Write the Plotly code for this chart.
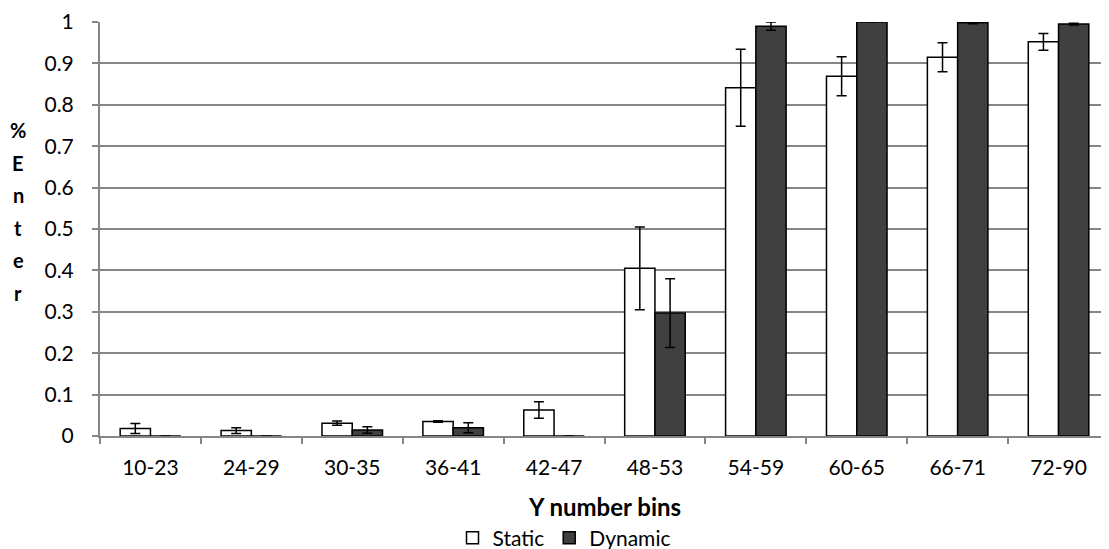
import plotly.graph_objects as go

categories = ["10-23", "24-29", "30-35", "36-41", "42-47", "48-53", "54-59", "60-65", "66-71", "72-90"]
static_vals = [0.018, 0.013, 0.031, 0.035, 0.063, 0.405, 0.841, 0.869, 0.915, 0.952]
static_err = [0.012, 0.007, 0.005, 0.002, 0.020, 0.100, 0.093, 0.047, 0.035, 0.020]
dynamic_vals = [0.0, 0.0, 0.0145, 0.020, 0.0, 0.297, 0.990, 1.0, 0.998, 0.995]
dynamic_err = [0.0, 0.0, 0.008, 0.012, 0.0, 0.083, 0.010, 0.0, 0.002, 0.002]
y_title_letters = ["%", "E", "n", "t", "e", "r"]

FONT = "Lato, Carlito, 'Liberation Sans', sans-serif"
AXIS_COL = "#868686"

fig = go.Figure()
fig.add_trace(go.Bar(
    name="Static", x=categories, y=static_vals,
    marker=dict(color="white", line=dict(color="black", width=1.5)),
    error_y=dict(type="data", array=static_err, color="black", thickness=1.5, width=5),
))
fig.add_trace(go.Bar(
    name="Dynamic", x=categories, y=dynamic_vals,
    marker=dict(color="#404040", line=dict(color="black", width=1.5)),
    error_y=dict(type="data", array=dynamic_err, color="black", thickness=1.5, width=5),
))

# page body has an 8px margin: screenshot pixel = figure pixel + 8
OFF = 8
W, H = 1109 - OFF, 549 - OFF
L, R, T, B = 100 - OFF, 0, 22 - OFF, H - (436 - OFF)
pw, ph = W - L - R, H - T - B


def px(xs):
    return (xs - OFF - L) / pw


def py(ys):
    return (H - B - (ys - OFF)) / ph


annotations = []
for i, ch in enumerate(y_title_letters):
    annotations.append(dict(
        text="<b>%s</b>" % ch, xref="paper", yref="paper",
        x=px(18), y=py(130 + i * 32.6), showarrow=False,
        xanchor="center", yanchor="middle",
        font=dict(family=FONT, size=20, color="black"),
    ))
annotations.append(dict(
    text="<b>Y number bins</b>", xref="paper", yref="paper",
    x=0.5, y=py(506), showarrow=False,
    xanchor="center", yanchor="middle",
    font=dict(family=FONT, size=24, color="black"),
))

fig.update_layout(
    width=W, height=H,
    margin=dict(l=L, r=R, t=T, b=B, autoexpand=False),
    paper_bgcolor="white", plot_bgcolor="white",
    barmode="group", bargap=0.4, bargroupgap=0,
    font=dict(family=FONT, size=21, color="black"),
    showlegend=True,
    legend=dict(
        orientation="h", x=px(564), xanchor="center",
        y=py(538), yanchor="middle",
        font=dict(family=FONT, size=21, color="black"),
        itemwidth=30, tracegroupgap=0,
    ),
    annotations=annotations,
)
fig.update_xaxes(
    type="category", automargin=False, showgrid=False, showline=True, linecolor=AXIS_COL, linewidth=2,
    ticks="outside", tickson="boundaries", ticklen=6, tickcolor=AXIS_COL, tickwidth=2,
    ticklabelstandoff=12, tickfont=dict(family=FONT, size=21, color="black"),
)
fig.update_yaxes(
    range=[0, 1], dtick=0.1, tick0=0, automargin=False, showgrid=True, gridcolor=AXIS_COL, gridwidth=1.5,
    showline=True, linecolor=AXIS_COL, linewidth=2, zeroline=False,
    ticks="outside", ticklen=6, tickcolor=AXIS_COL, tickwidth=2,
    ticklabelstandoff=14, tickfont=dict(family=FONT, size=21, color="black"),
)

fig.write_html("out.html")
